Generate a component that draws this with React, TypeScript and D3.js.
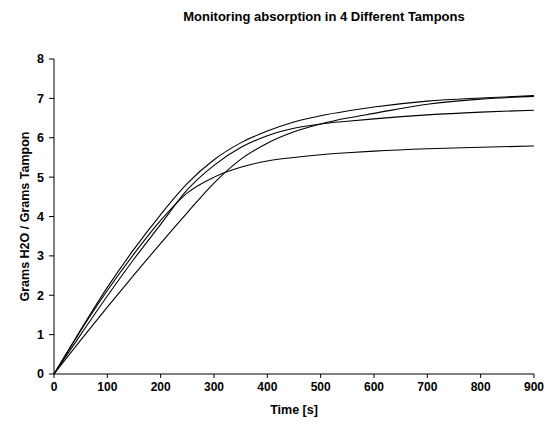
import React from 'react';
import * as d3 from 'd3';

// time samples [s]
const times = [0, 50, 100, 150, 200, 250, 300, 350, 400, 450, 500, 550, 600, 700, 800, 900];

// grams H2O / grams tampon, one array per tampon
const tamponA = [0, 1.12, 2.2, 3.17, 4.05, 4.84, 5.44, 5.87, 6.17, 6.4, 6.56, 6.68, 6.78, 6.93, 7.01, 7.07];
const tamponB = [0, 1.0, 1.98, 2.92, 3.8, 4.68, 5.3, 5.75, 6.05, 6.24, 6.35, 6.42, 6.48, 6.58, 6.65, 6.7];
const tamponC = [0, 0.86, 1.7, 2.52, 3.32, 4.1, 4.85, 5.45, 5.86, 6.15, 6.35, 6.5, 6.62, 6.85, 6.98, 7.05];
const tamponD = [0, 1.1, 2.12, 3.05, 3.9, 4.6, 5.0, 5.25, 5.41, 5.5, 5.57, 5.62, 5.66, 5.72, 5.76, 5.79];

const xTicks = [0, 100, 200, 300, 400, 500, 600, 700, 800, 900];
const yTicks = [0, 1, 2, 3, 4, 5, 6, 7, 8];

const series = [tamponA, tamponB, tamponC, tamponD];

export default function App()
{
	const width = 553, height = 426;
	const margin = { top: 59, right: 19, bottom: 52, left: 54 };
	const font = "'Liberation Sans', Arial, sans-serif";

	const x = d3.scaleLinear().domain([0, 900]).range([margin.left, width - margin.right]);
	const y = d3.scaleLinear().domain([0, 8]).range([height - margin.bottom, margin.top]);

	const line = d3.line<number>()
		.x((d, i) => x(times[i]))
		.y(d => y(d))
		.curve(d3.curveMonotoneX);

	const x0 = x(0), y0 = y(0);

	return (
		<svg width={width} height={height} style={{ position: 'absolute', left: 0, top: 0, background: 'white' }}
			fontFamily={font} fontWeight="bold">
			<text x={324} y={20.5} fontSize={13} textAnchor="middle">Monitoring absorption in 4 Different Tampons</text>

			{/* axes */}
			<line x1={x0} x2={x0} y1={y(8)} y2={y0} stroke="#000" strokeWidth={1} />
			<line x1={x0} x2={x(900)} y1={y0} y2={y0} stroke="#000" strokeWidth={1} />

			{yTicks.map(t => (
				<g key={'y' + t}>
					<line x1={x0 - 5} x2={x0} y1={y(t)} y2={y(t)} stroke="#000" />
					<text x={x0 - 10} y={y(t)} dy="0.35em" fontSize={12.5} textAnchor="end">{t}</text>
				</g>
			))}
			{xTicks.map(t => (
				<g key={'x' + t}>
					<line x1={x(t)} x2={x(t)} y1={y0} y2={y0 + 4} stroke="#000" />
					<text x={x(t)} y={y0 + 17} fontSize={12} textAnchor="middle">{t}</text>
				</g>
			))}

			<text x={(x0 + x(900)) / 2} y={413.5} fontSize={12.5} textAnchor="middle">Time [s]</text>
			<text transform={`translate(29,${(y(8) + y0) / 2}) rotate(-90)`} fontSize={12.5} textAnchor="middle">Grams H2O / Grams Tampon</text>

			{series.map((s, i) => (
				<path key={i} d={line(s) || ''} fill="none" stroke="#000" strokeWidth={1.1} />
			))}
		</svg>
	);
}
